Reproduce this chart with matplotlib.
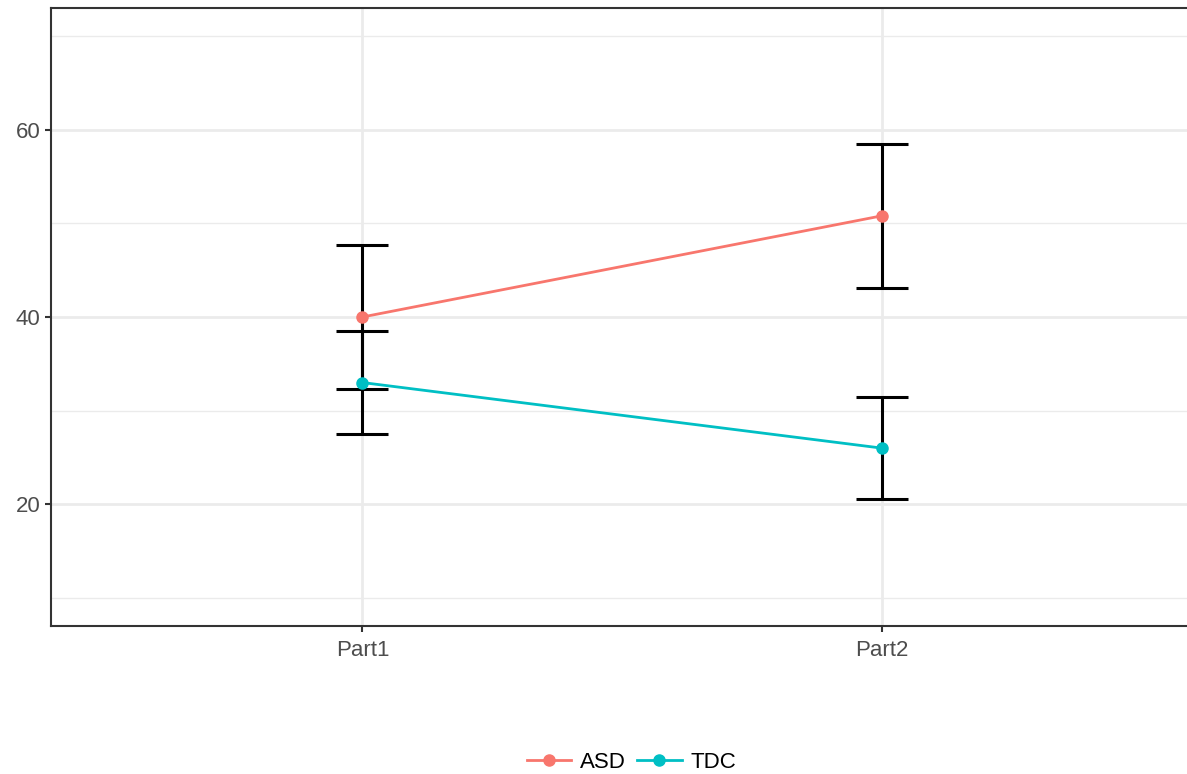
import matplotlib
matplotlib.use("Agg")
from matplotlib import pyplot as plt
from matplotlib.lines import Line2D
import numpy as np

# data
parts = ["Part1", "Part2"]
groups = ["ASD", "TDC"]
asd_mean = [40.0, 50.8]
asd_err = [7.7, 7.7]
tdc_mean = [33.0, 26.0]
tdc_err = [5.5, 5.45]

colors = {"ASD": "#F8766D", "TDC": "#00BFC4"}
means = {"ASD": asd_mean, "TDC": tdc_mean}
errs = {"ASD": asd_err, "TDC": tdc_err}

plt.rcParams['font.family'] = ['Liberation Sans', 'DejaVu Sans']

fig = plt.figure(figsize=(11.87, 7.74), dpi=100)
# panel runs slightly past the right edge of the image
ax = fig.add_axes([51 / 1187, 148 / 774, (1193 - 51) / 1187, (626 - 8) / 774])

x = np.arange(1, len(parts) + 1)

# grid, ggplot theme_bw style
for v in [10, 30, 50, 70]:
    ax.axhline(v, color="#EBEBEB", lw=1.0, zorder=0)
for v in [20, 40, 60]:
    ax.axhline(v, color="#EBEBEB", lw=2.0, zorder=0)
for v in x:
    ax.axvline(v, color="#EBEBEB", lw=2.0, zorder=0)

for g in groups:
    ax.errorbar(x, means[g], yerr=errs[g], fmt="none", ecolor="black",
                elinewidth=2.2, capsize=18.5, capthick=2.2, zorder=2)
for g in groups:
    ax.plot(x, means[g], color=colors[g], lw=2.0, marker="o", markersize=8,
            zorder=3)

ax.set_xlim(0.4, 2.6)
ax.set_ylim(7.0, 73.0)
ax.set_xticks(x)
ax.set_xticklabels(parts)
ax.set_yticks([20, 40, 60])
ax.tick_params(colors="#333333", labelcolor="#4D4D4D", labelsize=16,
               length=4, width=1.5)
ax.tick_params(axis="x", pad=6)

for side in ["left", "bottom", "top"]:
    ax.spines[side].set_color("#333333")
    ax.spines[side].set_linewidth(1.5)
ax.spines["right"].set_visible(False)

handles = [Line2D([], [], color=colors[g], lw=2.0, marker="o", markersize=8)
           for g in groups]
fig.legend(handles, groups, loc="center", bbox_to_anchor=(0.532, 12 / 774),
           ncol=2, frameon=False, fontsize=16, handlelength=2.0,
           handletextpad=0.4, columnspacing=0.5)

fig.savefig("out.png", dpi=100)
